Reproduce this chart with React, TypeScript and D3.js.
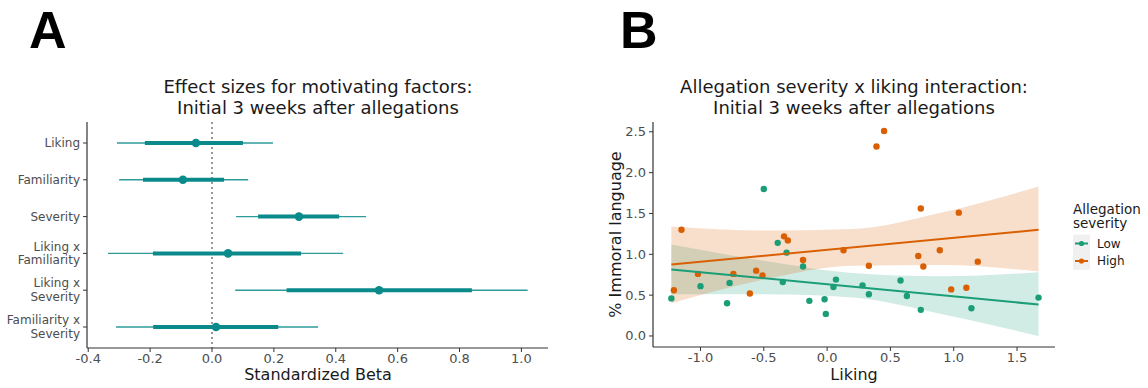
import * as d3 from 'd3';

// ---- Panel A: effect sizes ----
const terms = [
  'Liking',
  'Familiarity',
  'Severity',
  'Liking x\nFamiliarity',
  'Liking x\nSeverity',
  'Familiarity x\nSeverity',
];
const estimate = [-0.052, -0.094, 0.281, 0.052, 0.54, 0.013];
const outerLo = [-0.307, -0.3, 0.078, -0.336, 0.075, -0.31];
const outerHi = [0.197, 0.117, 0.498, 0.424, 1.02, 0.343];
const innerLo = [-0.217, -0.223, 0.149, -0.191, 0.241, -0.19];
const innerHi = [0.1, 0.039, 0.411, 0.288, 0.84, 0.214];
const betaTicks = [-0.4, -0.2, 0, 0.2, 0.4, 0.6, 0.8, 1.0];

// ---- Panel B: severity x liking ----
const lowX = [-1.23, -1.0, -0.79, -0.77, -0.5, -0.39, -0.35, -0.32, -0.19, -0.14, -0.02, -0.01, 0.05, 0.07, 0.28, 0.33, 0.58, 0.63, 0.74, 1.14, 1.67];
const lowY = [0.46, 0.61, 0.4, 0.65, 1.8, 1.14, 0.66, 1.02, 0.85, 0.43, 0.45, 0.27, 0.6, 0.69, 0.62, 0.51, 0.68, 0.49, 0.32, 0.34, 0.47];
const highX = [-1.21, -1.15, -1.02, -0.74, -0.61, -0.56, -0.51, -0.34, -0.31, -0.19, 0.13, 0.33, 0.39, 0.45, 0.72, 0.74, 0.76, 0.89, 0.98, 1.04, 1.1, 1.19];
const highY = [0.56, 1.3, 0.76, 0.76, 0.52, 0.8, 0.74, 1.22, 1.17, 0.93, 1.05, 0.86, 2.32, 2.51, 0.98, 1.56, 0.85, 1.05, 0.57, 1.51, 0.59, 0.91];

// fitted lines (ends) and confidence band
const fitX = [-1.23, 1.67];
const lowFit = [0.815, 0.385];
const highFit = [0.875, 1.3];
const bandX = [-1.23, -0.5, 0.2, 0.9, 1.67];
const lowBandLo = [0.51, 0.51, 0.47, 0.27, 0.0];
const lowBandHi = [1.12, 0.92, 0.77, 0.73, 0.78];
const highBandLo = [0.4, 0.69, 0.86, 0.87, 0.79];
const highBandHi = [1.34, 1.29, 1.31, 1.51, 1.83];

const likingTicks = [-1.0, -0.5, 0.0, 0.5, 1.0, 1.5];
const immoralTicks = [0.0, 0.5, 1.0, 1.5, 2.0, 2.5];

const groups = [
  { name: 'Low', color: '#1b9e77', xs: lowX, ys: lowY, fit: lowFit, lo: lowBandLo, hi: lowBandHi },
  { name: 'High', color: '#d95f02', xs: highX, ys: highY, fit: highFit, lo: highBandLo, hi: highBandHi },
];

const FONT = 'DejaVu Sans, sans-serif';
const AXIS = '#333333';
const TICKTXT = '#4d4d4d';
const TEAL = '#0a8a8a';

function PanelA() {
  const x = d3.scaleLinear().domain([-0.404, 1.086]).range([87, 548]);
  const y = d3.scalePoint<string>().domain(terms).range([143, 327]);
  const top = 122;
  const bottom = 348;
  return (
    <g>
      <text x={318} y={92.5} textAnchor="middle" fontSize={18} fill="#1a1a1a">
        Effect sizes for motivating factors:
      </text>
      <text x={318} y={113.5} textAnchor="middle" fontSize={18} fill="#1a1a1a">
        Initial 3 weeks after allegations
      </text>

      <line x1={x(0)} x2={x(0)} y1={top} y2={bottom} stroke="#555" strokeWidth={1.2} strokeDasharray="2,3" />

      {terms.map((t, i) => {
        const cy = y(t)!;
        return (
          <g key={t}>
            <line x1={x(outerLo[i])} x2={x(outerHi[i])} y1={cy} y2={cy} stroke={TEAL} strokeWidth={1.4} opacity={0.85} />
            <line x1={x(innerLo[i])} x2={x(innerHi[i])} y1={cy} y2={cy} stroke={TEAL} strokeWidth={4} />
            <circle cx={x(estimate[i])} cy={cy} r={4.3} fill={TEAL} />
          </g>
        );
      })}

      {/* axes */}
      <line x1={87} x2={87} y1={top} y2={bottom} stroke={AXIS} strokeWidth={1.2} />
      <line x1={87} x2={548} y1={bottom} y2={bottom} stroke={AXIS} strokeWidth={1.2} />
      {terms.map((t) => {
        const cy = y(t)!;
        const lines = t.split('\n');
        return (
          <g key={t}>
            <line x1={83} x2={87} y1={cy} y2={cy} stroke={AXIS} />
            {lines.map((s, j) => (
              <text
                key={j}
                x={80}
                y={cy + 4 + (j - (lines.length - 1) / 2) * 13.5}
                textAnchor="end"
                fontSize={12}
                fill={TICKTXT}
              >
                {s}
              </text>
            ))}
          </g>
        );
      })}
      {betaTicks.map((v) => (
        <g key={v}>
          <line x1={x(v)} x2={x(v)} y1={bottom} y2={bottom + 4} stroke={AXIS} />
          <text x={x(v)} y={363} textAnchor="middle" fontSize={13} fill={TICKTXT}>
            {v.toFixed(1)}
          </text>
        </g>
      ))}
      <text x={318} y={380} textAnchor="middle" fontSize={16} fill="#1a1a1a">
        Standardized Beta
      </text>
    </g>
  );
}

function PanelB() {
  const x = d3.scaleLinear().domain([-1.375, 1.8]).range([653, 1055]);
  const y = d3.scaleLinear().domain([-0.135, 2.62]).range([347, 122]);
  const left = 653;
  const right = 1055;
  const top = 122;
  const bottom = 347;
  const cx = (left + right) / 2;

  const band = d3
    .area<number>()
    .x((_, i) => x(bandX[i]))
    .curve(d3.curveMonotoneX);

  return (
    <g>
      <text x={cx} y={92.5} textAnchor="middle" fontSize={18} fill="#1a1a1a">
        Allegation severity x liking interaction:
      </text>
      <text x={cx} y={113.5} textAnchor="middle" fontSize={18} fill="#1a1a1a">
        Initial 3 weeks after allegations
      </text>

      {groups.map((g) => (
        <path
          key={'band' + g.name}
          d={band.y0((_, i) => y(g.lo[i])).y1((_, i) => y(g.hi[i]))(bandX) || ''}
          fill={g.color}
          opacity={0.2}
        />
      ))}
      {groups.map((g) => (
        <g key={'pts' + g.name}>
          {g.xs.map((v, i) => (
            <circle key={i} cx={x(v)} cy={y(g.ys[i])} r={3.2} fill={g.color} />
          ))}
        </g>
      ))}
      {groups.map((g) => (
        <line
          key={'fit' + g.name}
          x1={x(fitX[0])}
          x2={x(fitX[1])}
          y1={y(g.fit[0])}
          y2={y(g.fit[1])}
          stroke={g.color}
          strokeWidth={2}
        />
      ))}

      {/* axes */}
      <line x1={left} x2={left} y1={top} y2={bottom} stroke={AXIS} strokeWidth={1.2} />
      <line x1={left} x2={right} y1={bottom} y2={bottom} stroke={AXIS} strokeWidth={1.2} />
      {immoralTicks.map((v) => (
        <g key={v}>
          <line x1={left - 4} x2={left} y1={y(v)} y2={y(v)} stroke={AXIS} />
          <text x={left - 7} y={y(v) + 4.5} textAnchor="end" fontSize={13} fill={TICKTXT}>
            {v.toFixed(1)}
          </text>
        </g>
      ))}
      {likingTicks.map((v) => (
        <g key={v}>
          <line x1={x(v)} x2={x(v)} y1={bottom} y2={bottom + 4} stroke={AXIS} />
          <text x={x(v)} y={362} textAnchor="middle" fontSize={13} fill={TICKTXT}>
            {v.toFixed(1)}
          </text>
        </g>
      ))}
      <text x={cx} y={380} textAnchor="middle" fontSize={16} fill="#1a1a1a">
        Liking
      </text>
      <text
        transform={`translate(621,${(top + bottom) / 2}) rotate(-90)`}
        textAnchor="middle"
        fontSize={16}
        fill="#1a1a1a"
      >
        % Immoral language
      </text>

      {/* legend */}
      <text x={1073} y={214} fontSize={13.5} fill="#1a1a1a">Allegation</text>
      <text x={1073} y={228} fontSize={13.5} fill="#1a1a1a">severity</text>
      {groups.map((g, i) => {
        const ky = 243.5 + i * 17.5;
        return (
          <g key={'leg' + g.name}>
            <rect x={1073} y={ky - 8.75} width={17} height={17.5} fill="#f0f0f0" />
            <line x1={1075} x2={1088} y1={ky} y2={ky} stroke={g.color} strokeWidth={2} />
            <circle cx={1081.5} cy={ky} r={2.6} fill={g.color} />
            <text x={1097} y={ky + 4} fontSize={12} fill="#1a1a1a">{g.name}</text>
          </g>
        );
      })}
    </g>
  );
}

export default function App() {
  return (
    <svg
      width={1148}
      height={388}
      style={{ position: 'absolute', left: 0, top: 0, background: '#fff' }}
      fontFamily={FONT}
    >
      <rect width={1148} height={388} fill="#fff" />
      <text x={29} y={48} fontSize={52} fontWeight="bold" fontFamily="Liberation Sans, Arial, sans-serif">
        A
      </text>
      <text x={620} y={48} fontSize={52} fontWeight="bold" fontFamily="Liberation Sans, Arial, sans-serif">
        B
      </text>
      <PanelA />
      <PanelB />
    </svg>
  );
}
